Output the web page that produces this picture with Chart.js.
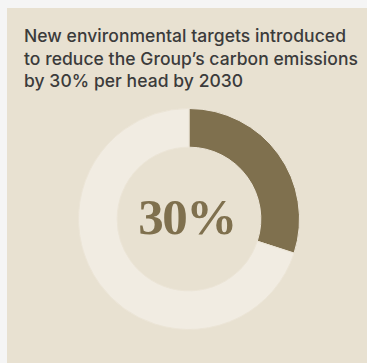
<!DOCTYPE html>
<html>
<head>
<meta charset="utf-8">
<script src="https://cdn.jsdelivr.net/npm/chart.js@4/dist/chart.umd.min.js"></script>
<style>
  html, body { margin: 0; padding: 0; }
  body { background: #f5f5f5; width: 367px; height: 363px; overflow: hidden; position: relative; }
  #panel { position: absolute; left: 7px; top: 8px; width: 360px; height: 355px; background: #e8e1d1; }
  #title { position: absolute; left: 17px; top: 17px; width: 345px; white-space: nowrap; font-family: "Inter", sans-serif; font-weight: 450; font-size: 17.5px; line-height: 22.5px; color: #3b3b3b; letter-spacing: 0.05px; }
  #wrap { position: absolute; left: 71px; top: 100px; width: 222px; height: 222px; }
</style>
</head>
<body>
<div id="panel">
  <div id="title">New environmental targets introduced<br>to reduce the Group’s carbon emissions<br>by 30% per head by 2030</div>
  <div id="wrap"><canvas id="chart"></canvas></div>
</div>
<script>
const labels = ['Reduction target', 'Remaining'];
const values = [30, 70];
const colors = ['#7f704e', '#f1ece2'];
const center_label = '30%';

const center_text = {
  id: 'center_text',
  afterDraw(chart) {
    let ctx = chart.ctx;
    let arc = chart.getDatasetMeta(0).data[0];
    ctx.save();
    ctx.font = 'bold 51px "Liberation Serif", serif';
    ctx.letterSpacing = '-1.5px';
    ctx.fillStyle = '#7f704e';
    ctx.textAlign = 'center';
    ctx.textBaseline = 'middle';
    ctx.fillText(center_label, arc.x - 2, arc.y + 2);
    ctx.restore();
  }
};

new Chart(document.getElementById('chart'), {
  type: 'doughnut',
  data: {
    labels: labels,
    datasets: [{
      data: values,
      backgroundColor: colors,
      borderColor: '#ebe4d6',
      borderWidth: 1,
      hoverOffset: 0
    }]
  },
  options: {
    responsive: true,
    maintainAspectRatio: false,
    animation: false,
    cutout: '65%',
    layout: { padding: 0 },
    plugins: { legend: { display: false }, tooltip: { enabled: false } }
  },
  plugins: [center_text]
});
</script>
</body>
</html>
